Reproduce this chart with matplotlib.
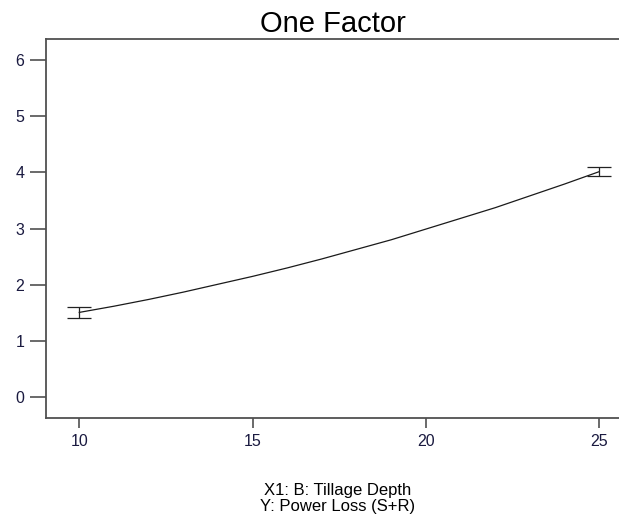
import matplotlib
matplotlib.use("Agg")
import matplotlib.pyplot as plt

# Fitted response of Power Loss (S+R) against Tillage Depth
depth = [10, 11, 12, 13, 14, 15, 16, 17, 18, 19, 20, 21, 22, 23, 24, 25]
power_loss = [1.51, 1.62, 1.74, 1.87, 2.01, 2.15, 2.30, 2.46, 2.63, 2.80,
              2.99, 3.18, 3.37, 3.58, 3.79, 4.01]

# Confidence bars at the design points
bar_x = [10, 25]
bar_mid = [1.51, 4.01]
bar_low = [1.41, 3.94]
bar_high = [1.60, 4.10]

x_ticks = [10, 15, 20, 25]
y_ticks = [0, 1, 2, 3, 4, 5, 6]

plt.rcParams["font.family"] = ["Liberation Sans", "DejaVu Sans"]

fig = plt.figure(figsize=(6.19, 5.15), dpi=100)
ax = fig.add_axes([0.0743, 0.1874, 0.9257, 0.7378])

ax.plot(depth, power_loss, color="#1a1a1a", lw=0.9)

yerr = [[m - lo for m, lo in zip(bar_mid, bar_low)],
        [hi - m for m, hi in zip(bar_mid, bar_high)]]
ax.errorbar(bar_x, bar_mid, yerr=yerr, fmt="none", ecolor="#222222",
            elinewidth=0.9, capsize=8.6, capthick=0.9)

ax.set_xlim(9.04, 25.57)
ax.set_ylim(-0.374, 6.374)
ax.set_xticks(x_ticks)
ax.set_yticks(y_ticks)

spine_color = "#505050"
for side in ("left", "bottom", "top"):
    ax.spines[side].set_color(spine_color)
    ax.spines[side].set_linewidth(1.3)
ax.spines["right"].set_visible(False)

ax.tick_params(axis="y", direction="out", length=11.5, width=1.2,
               color=spine_color, labelsize=11.5, labelcolor="#1a1a40", pad=4)
ax.tick_params(axis="x", direction="out", length=7, width=1.2,
               color=spine_color, labelsize=11.5, labelcolor="#1a1a40", pad=4.5)

ax.set_title("One Factor", fontsize=21, pad=5)

fig.text(0.546, 0.039, "X1: B: Tillage Depth", ha="center", va="baseline",
         fontsize=12)
fig.text(0.546, 0.008, "Y: Power Loss (S+R)", ha="center", va="baseline",
         fontsize=12)

fig.savefig("out.png", dpi=100)
